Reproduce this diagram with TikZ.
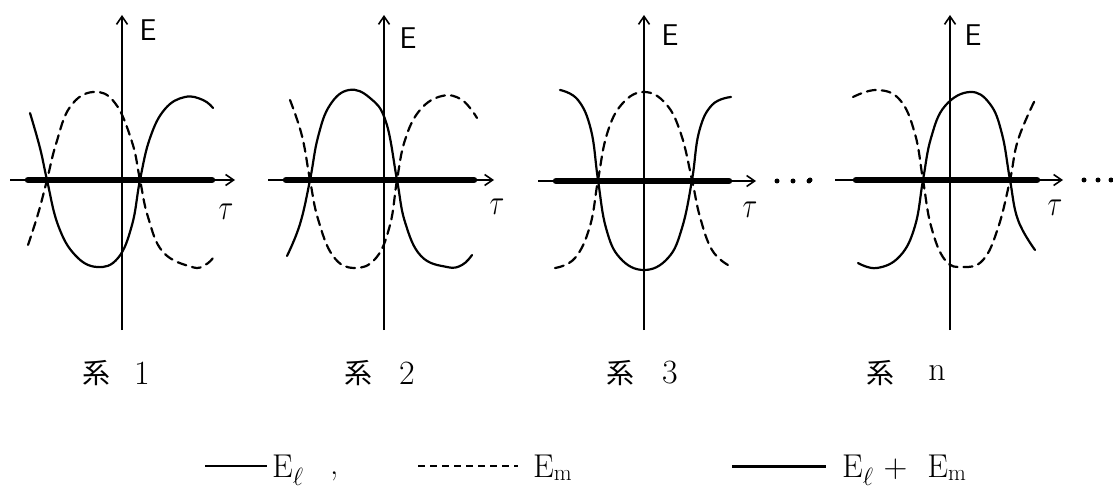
\documentclass[tikz,border=0pt]{standalone}
\usepackage{fontspec}
\newfontfamily\cjk{Noto Sans CJK JP}
\usetikzlibrary{arrows.meta}
\tikzset{
  curve/.style={line width=2.2pt, line cap=round, line join=round},
  dcurve/.style={curve, dash pattern=on 9pt off 6pt},
  axisline/.style={line width=1.6pt, -{Straight Barb[length=8pt,width=11pt,line width=1.6pt]}},
  band/.style={line width=6.5pt, line cap=round},
  dotmark/.style={circle, fill=black, inner sep=0pt, minimum size=5pt},
  elabel/.style={font=\sffamily\fontsize{30}{30}\selectfont, inner sep=0pt},
  tlabel/.style={font=\fontsize{30}{30}\selectfont, inner sep=0pt},
  cjklabel/.style={font=\cjk\fontsize{28}{28}\selectfont, inner sep=0pt},
  numlabel/.style={font=\fontsize{34}{34}\selectfont, inner sep=0pt},
  leg/.style={font=\fontsize{33}{33}\selectfont, inner sep=0pt, anchor=base west}
}
\begin{document}
\begin{tikzpicture}[x=1pt,y=-1pt]
\useasboundingbox (0,0) rectangle (1113,489);

% ---------- Panel 1 ----------
\coordinate (v1t) at (122,15); \coordinate (v1b) at (122,330);
\coordinate (h1l) at (10,180); \coordinate (h1r) at (235,180);
\coordinate (b1l) at (28,180); \coordinate (b1r) at (212,180);
\draw[band] (b1l) -- (b1r);
\draw[axisline] (h1l) -- (h1r);
\draw[axisline] (v1b) -- (v1t);
\draw[curve] plot[smooth, tension=0.7] coordinates {(30,113) (40,148) (47,180) (58,225) (75,255) (97,267) (118,258) (132,225) (140,180) (150,138) (165,109) (185,97) (203,100) (213,108)};
\draw[dcurve] plot[smooth, tension=0.7] coordinates {(28,245) (38,214) (47,180) (56,144) (70,107) (93,92) (115,103) (132,142) (140,180) (148,217) (163,252) (192,267) (205,265) (213,258)};
\node[elabel] (e1) at (148,30) {E};
\node[tlabel] (t1) at (226,212) {\scalebox{1.1}[1.45]{$\tau$}};
\node[cjklabel] (k1) at (96,373) {系};
\node[numlabel] (n1) at (142,373) {1};

% ---------- Panel 2 ----------
\coordinate (v2t) at (384,15); \coordinate (v2b) at (384,330);
\coordinate (h2l) at (268,180); \coordinate (h2r) at (494,180);
\coordinate (b2l) at (286,180); \coordinate (b2r) at (474,180);
\draw[band] (b2l) -- (b2r);
\draw[axisline] (h2l) -- (h2r);
\draw[axisline] (v2b) -- (v2t);
\draw[curve] plot[smooth, tension=0.7] coordinates {(287,256) (300,224) (310,180) (318,137) (330,105) (349,90) (370,98) (386,122) (397,180) (405,222) (421,256) (447,267) (462,265) (472,255)};
\draw[dcurve] plot[smooth, tension=0.7] coordinates {(290,100) (302,136) (310,180) (318,219) (333,256) (354,268) (376,258) (390,225) (397,180) (405,140) (420,110) (442,96) (462,100) (477,118)};
\node[elabel] (e2) at (408,38) {E};
\node[tlabel] (t2) at (497,207) {\scalebox{1.1}[1.45]{$\tau$}};
\node[cjklabel] (k2) at (358,373) {系};
\node[numlabel] (n2) at (407,373) {2};

% ---------- Panel 3 ----------
\coordinate (v3t) at (644,15); \coordinate (v3b) at (644,330);
\coordinate (h3l) at (538,181); \coordinate (h3r) at (756,181);
\coordinate (b3l) at (556,181); \coordinate (b3r) at (729,181);
\draw[band] (b3l) -- (b3r);
\draw[axisline] (h3l) -- (h3r);
\draw[axisline] (v3b) -- (v3t);
\draw[curve] plot[smooth, tension=0.7] coordinates {(560,90) (578,100) (591,130) (598,180) (606,228) (620,258) (644,270) (668,258) (682,228) (692,180) (699,132) (712,105) (731,97)};
\draw[dcurve] plot[smooth, tension=0.7] coordinates {(555,268) (575,258) (590,226) (598,180) (607,134) (622,104) (644,92) (666,104) (681,134) (692,180) (700,217) (712,250) (728,265)};
\node[elabel] (e3) at (670,35) {E};
\node[tlabel] (t3) at (750,210) {\scalebox{1.1}[1.45]{$\tau$}};
\node[dotmark] (d31) at (777,181) {};
\node[dotmark] (d32) at (793,181) {};
\node[dotmark] (d33) at (809,181) {};
\node[cjklabel] (k3) at (620,373) {系};
\node[numlabel] (n3) at (670,373) {3};

% ---------- Panel 4 ----------
\coordinate (v4t) at (950,15); \coordinate (v4b) at (950,330);
\coordinate (h4l) at (835,180); \coordinate (h4r) at (1063,180);
\coordinate (b4l) at (856,180); \coordinate (b4r) at (1037,180);
\draw[band] (b4l) -- (b4r);
\draw[axisline] (h4l) -- (h4r);
\draw[axisline] (v4b) -- (v4t);
\draw[curve] plot[smooth, tension=0.7] coordinates {(858,263) (877,268) (900,256) (915,226) (923,180) (931,138) (945,106) (970,92) (990,104) (1002,134) (1010,180) (1018,220) (1035,250)};
\draw[dcurve] plot[smooth, tension=0.7] coordinates {(853,97) (877,90) (900,100) (915,134) (923,180) (931,226) (945,260) (963,267) (983,260) (998,228) (1010,180) (1018,140) (1035,100)};
\node[elabel] (e4) at (973,35) {E};
\node[tlabel] (t4) at (1055,208) {\scalebox{1.1}[1.45]{$\tau$}};
\node[dotmark] (d40) at (810,180) {};
\node[dotmark] (d41) at (1084,180) {};
\node[dotmark] (d42) at (1098,180) {};
\node[dotmark] (d43) at (1111,180) {};
\node[cjklabel] (k4) at (880,373) {系};
\node[numlabel] (n4) at (937,373) {n};

% ---------- Legend ----------
\coordinate (l1a) at (205,466); \coordinate (l1b) at (267,466);
\draw[line width=1.5pt] (l1a) -- (l1b);
\node[leg] (le1) at (272,477) {E$_\ell$};
\node[leg] (lc) at (330,474) {,};
\coordinate (l2a) at (418,466); \coordinate (l2b) at (518,466);
\draw[line width=1.5pt, dash pattern=on 7pt off 5pt] (l2a) -- (l2b);
\node[leg] (le2) at (533,477) {E$_{\mathrm{m}}$};
\coordinate (l3a) at (732,466); \coordinate (l3b) at (826,466);
\draw[line width=3pt] (l3a) -- (l3b);
\node[leg] (le3) at (842,477) {E$_\ell$ + \hspace{10pt}E$_{\mathrm{m}}$};
\end{tikzpicture}
\end{document}
